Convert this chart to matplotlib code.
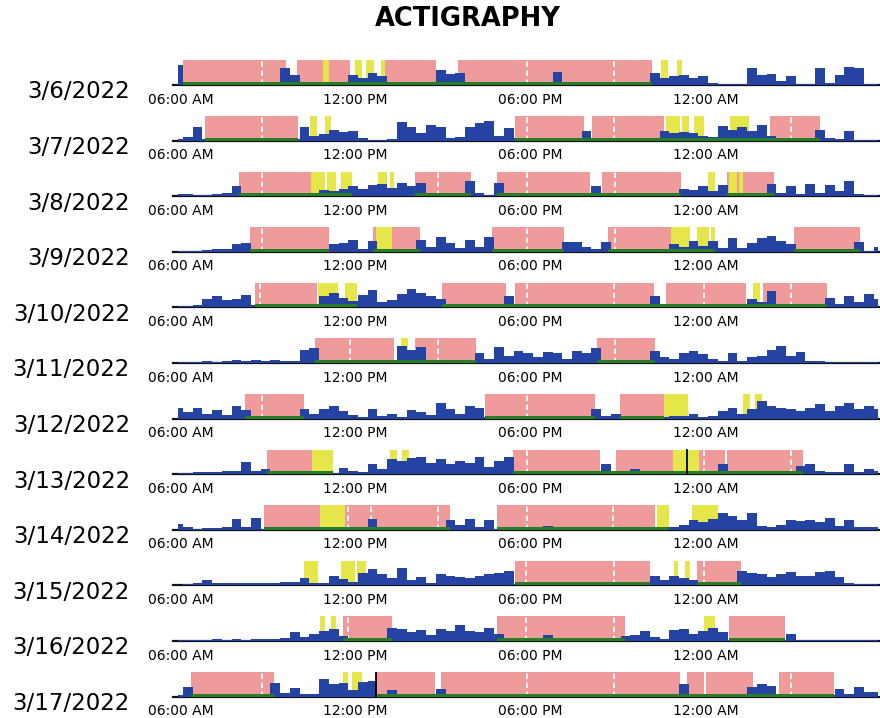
import matplotlib
matplotlib.use("Agg")
import matplotlib.pyplot as plt
import numpy as np

plt.rcParams["font.family"] = ["DejaVu Sans"]

DATES = ["3/6/2022", "3/7/2022", "3/8/2022", "3/9/2022", "3/10/2022", "3/11/2022",
         "3/12/2022", "3/13/2022", "3/14/2022", "3/15/2022", "3/16/2022", "3/17/2022"]
TICK_HOURS = [6, 12, 18, 24]
TICK_LABELS = ["06:00 AM", "12:00 PM", "06:00 PM", "12:00 AM"]

# activity counts in 20-minute epochs starting 05:45, as % of full scale
BIN_START = 5.75
BIN_HOURS = 1 / 3
ACTIVITY = [
    # 3/6
    [80, 5, 5, 5, 5, 5, 5, 5, 5, 5, 5, 70, 40, 5, 5, 5, 8, 5, 40, 30, 50, 35, 5, 5, 5,
     5, 5, 60, 45, 50, 5, 5, 5, 5, 5, 5, 5, 5, 5, 55, 5, 5, 5, 5, 5, 5, 5, 5, 5, 50,
     30, 35, 40, 30, 35, 8, 5, 5, 5, 70, 40, 45, 15, 35, 5, 5, 70, 10, 40, 75, 70, 5, 5],
    # 3/7
    [5, 15, 55, 5, 5, 5, 5, 5, 5, 5, 5, 5, 5, 55, 20, 25, 45, 35, 40, 10, 3, 3, 5, 75, 55,
     30, 65, 55, 10, 15, 55, 70, 80, 20, 50, 10, 5, 5, 5, 5, 5, 5, 40, 5, 5, 5, 5, 5, 5, 5,
     40, 30, 35, 30, 20, 15, 60, 45, 55, 40, 65, 20, 5, 5, 5, 5, 45, 10, 5, 40, 3, 3, 3],
    # 3/8
    [8, 8, 5, 3, 8, 15, 40, 5, 5, 5, 5, 5, 5, 5, 15, 25, 20, 30, 40, 30, 45, 50, 35, 55, 40,
     55, 5, 5, 5, 5, 60, 15, 5, 55, 5, 5, 5, 5, 5, 5, 5, 5, 5, 40, 5, 5, 5, 5, 5, 5,
     5, 5, 30, 25, 40, 20, 45, 8, 8, 8, 8, 50, 15, 40, 10, 50, 15, 45, 20, 60, 10, 5, 3],
    # 3/9
    [3, 5, 5, 8, 10, 12, 30, 35, 5, 5, 5, 5, 5, 5, 5, 5, 30, 35, 50, 10, 45, 5, 5, 5, 5,
     50, 20, 60, 35, 15, 50, 20, 60, 5, 5, 5, 5, 5, 5, 5, 40, 40, 20, 10, 40, 5, 5, 5, 5, 5,
     5, 30, 20, 45, 25, 45, 15, 55, 15, 35, 55, 65, 45, 30, 5, 5, 5, 5, 5, 5, 40, 5, 20],
    # 3/10
    [5, 5, 8, 35, 45, 30, 35, 50, 10, 5, 5, 5, 5, 5, 5, 45, 60, 40, 25, 50, 70, 20, 30, 55, 75,
     60, 45, 35, 5, 5, 5, 5, 5, 5, 45, 5, 5, 5, 5, 5, 5, 5, 5, 5, 5, 5, 5, 5, 5, 45,
     5, 5, 5, 5, 5, 5, 5, 5, 15, 35, 20, 65, 5, 5, 5, 5, 5, 40, 15, 45, 20, 55, 35],
    # 3/11
    [3, 5, 5, 8, 5, 10, 12, 8, 12, 10, 12, 8, 10, 55, 60, 5, 5, 5, 5, 5, 5, 5, 5, 70, 55,
     65, 5, 5, 5, 5, 10, 40, 15, 65, 30, 50, 40, 25, 45, 40, 15, 50, 40, 60, 5, 5, 5, 5, 5, 50,
     25, 15, 40, 50, 35, 15, 10, 40, 10, 25, 30, 55, 70, 30, 45, 10, 8, 6, 6, 6, 6, 6, 6],
    # 3/12
    [45, 25, 45, 20, 35, 15, 50, 35, 5, 5, 5, 5, 5, 40, 20, 40, 50, 30, 15, 8, 40, 10, 20, 8, 35,
     25, 15, 65, 40, 20, 50, 45, 5, 5, 5, 5, 5, 5, 5, 5, 5, 5, 5, 40, 10, 20, 5, 5, 5, 5,
     5, 10, 10, 20, 8, 10, 30, 45, 20, 40, 70, 50, 45, 40, 30, 45, 60, 30, 50, 65, 40, 50, 40],
    # 3/13
    [5, 5, 8, 10, 8, 12, 15, 50, 15, 20, 5, 5, 5, 5, 5, 5, 5, 25, 15, 10, 40, 20, 60, 55, 65,
     70, 45, 60, 40, 55, 45, 70, 30, 55, 70, 5, 5, 5, 5, 5, 5, 5, 5, 10, 40, 15, 5, 20, 5, 5,
     5, 5, 5, 5, 5, 5, 40, 5, 5, 5, 5, 5, 5, 5, 35, 40, 15, 10, 10, 40, 10, 20, 15],
    # 3/14
    [25, 10, 5, 8, 8, 10, 45, 10, 50, 5, 5, 5, 5, 5, 5, 5, 5, 5, 5, 5, 45, 5, 5, 5, 5,
     5, 5, 5, 40, 20, 45, 10, 40, 5, 5, 5, 5, 5, 15, 5, 5, 5, 5, 5, 5, 5, 5, 5, 5, 5,
     5, 10, 20, 40, 30, 45, 70, 55, 40, 70, 15, 10, 20, 40, 35, 40, 30, 50, 15, 40, 10, 10, 10],
    # 3/15
    [3, 5, 8, 20, 8, 10, 8, 10, 8, 10, 8, 12, 15, 30, 10, 10, 40, 25, 15, 50, 65, 45, 30, 70, 20,
     35, 10, 45, 40, 35, 30, 40, 45, 50, 60, 5, 5, 5, 5, 5, 5, 5, 5, 5, 5, 5, 5, 5, 5, 40,
     20, 40, 30, 20, 5, 5, 5, 5, 60, 50, 45, 35, 45, 55, 40, 40, 55, 60, 35, 10, 6, 6, 6],
    # 3/16
    [3, 3, 5, 5, 8, 5, 8, 5, 8, 10, 8, 12, 35, 15, 30, 40, 50, 20, 5, 5, 5, 5, 55, 50, 35,
     45, 25, 50, 40, 65, 40, 35, 55, 30, 5, 5, 5, 5, 25, 5, 5, 5, 5, 5, 5, 5, 20, 25, 40, 15,
     10, 45, 50, 30, 40, 55, 35, 5, 5, 5, 5, 5, 5, 30, 6, 6, 6, 6, 6, 6, 6, 6, 6],
    # 3/17
    [5, 40, 5, 5, 5, 5, 5, 5, 5, 5, 55, 15, 35, 10, 12, 70, 50, 55, 25, 60, 65, 5, 25, 5, 5,
     5, 5, 30, 5, 5, 5, 5, 5, 5, 5, 5, 5, 5, 5, 5, 5, 5, 5, 5, 5, 5, 5, 5, 5, 5,
     5, 5, 50, 5, 5, 5, 5, 5, 5, 40, 50, 45, 5, 5, 5, 5, 5, 5, 30, 10, 40, 20, 20],
]

# scored rest intervals (clock hours, >24 = next day)
REST = [
    [(6.10, 9.62), (9.98, 11.81), (13.02, 14.77), (15.52, 22.15)],
    [(6.84, 10.03), (17.47, 19.81), (20.10, 22.56), (26.20, 27.90)],
    [(7.99, 10.46), (14.05, 15.96), (16.84, 20.03), (20.43, 23.14), (24.73, 26.33)],
    [(8.38, 11.10), (12.61, 14.20), (16.68, 19.15), (20.66, 22.82), (27.04, 29.28)],
    [(8.57, 10.68), (14.96, 17.14), (17.47, 22.24), (22.64, 25.39), (25.95, 28.14)],
    [(10.62, 13.33), (14.05, 16.12), (20.27, 22.26)],
    [(8.22, 10.22), (16.44, 20.19), (21.06, 22.58)],
    [(8.98, 10.51), (17.39, 20.38), (20.94, 24.66), (24.74, 27.33)],
    [(8.86, 15.24), (16.84, 22.26)],
    [(17.47, 22.10), (23.70, 25.21)],
    [(11.57, 13.25), (16.84, 21.22), (24.81, 26.73)],
    [(6.36, 9.22), (12.70, 14.72), (14.91, 23.13), (23.37, 23.93), (24.02, 25.63), (26.52, 28.38)],
]

# off-wrist / excluded intervals
EXCLUDED = [
    [(10.87, 11.08), (11.97, 12.21), (12.34, 12.62), (12.86, 13.02), (22.48, 22.72), (23.01, 23.20)],
    [(10.43, 10.68), (10.95, 11.16), (22.64, 23.12), (23.20, 23.44), (23.60, 23.93), (24.82, 25.47)],
    [(10.46, 10.94), (11.02, 11.34), (11.50, 11.89), (12.77, 13.09), (13.17, 13.33), (24.09, 24.33),
     (24.81, 25.06), (25.13, 25.29)],
    [(12.69, 13.25), (22.82, 23.46), (23.70, 24.10), (24.18, 24.33)],
    [(10.72, 11.40), (11.65, 12.05), (25.63, 25.87)],
    [(13.57, 13.81)],
    [(22.58, 23.38), (25.29, 25.53), (25.69, 25.93)],
    [(10.51, 11.24), (13.18, 13.42), (13.59, 13.83), (22.88, 23.77)],
    [(10.78, 11.65), (22.34, 22.74), (23.54, 24.41)],
    [(10.22, 10.70), (11.49, 11.97), (12.05, 12.37), (22.90, 23.04), (23.30, 23.46)],
    [(10.78, 10.94), (11.17, 11.33), (23.93, 24.33)],
    [(11.57, 11.73), (11.89, 12.21)],
]

# white dashed day markers inside rest intervals
DASHES = [
    [8.78, 17.87, 20.86],
    [8.78, 17.87, 20.86, 26.92],
    [8.78, 14.84, 17.87, 20.90],
    [8.78, 17.87, 20.90],
    [8.74, 17.87, 20.86, 23.93, 26.92],
    [11.81, 14.84, 20.90],
    [8.78, 17.87],
    [17.87, 23.93, 26.92],
    [11.73, 12.53, 14.84, 17.87, 20.82],
    [17.84, 20.86, 23.93],
    [11.73, 17.84, 20.86],
    [8.78, 17.87, 20.86, 23.97, 26.92],
]

# light-off bands along the baseline
LIGHTS_OFF = [
    [(6.10, 22.15)],
    [(6.84, 10.03), (17.47, 27.90)],
    [(7.99, 11.89), (14.05, 15.96), (16.84, 23.14), (24.73, 26.33)],
    [(8.38, 11.10), (12.61, 14.20), (16.68, 19.15), (20.66, 24.33), (27.04, 29.28)],
    [(8.57, 12.05), (14.96, 28.14)],
    [(10.62, 16.12), (20.27, 22.26)],
    [(8.22, 10.22), (16.44, 20.19), (21.06, 22.58)],
    [(8.98, 11.24), (17.39, 27.33)],
    [(8.86, 15.24), (16.84, 22.74)],
    [(17.47, 22.10), (23.70, 25.21)],
    [(11.57, 13.25), (16.84, 21.22), (24.81, 26.73)],
    [(6.36, 9.22), (12.70, 28.38)],
]

# event-marker button presses
EVENTS = [[], [], [], [], [], [], [], [23.36], [], [], [], [12.70]]

COLORS = {
    "rest": "#ef9b9b",
    "excluded": "#e4e64a",
    "activity": "#2443a3",
    "light": "#267f26",
    "axis": "#111111",
}

W, H = 880, 718
X0, X1 = 5.75, 29.97
AX_LEFT = 173.2
ROW0 = 85
ROW_STEP = 55.6
ROW_H = 25


def draw_row(ax, i):
    top = 1.0
    for a, b in REST[i]:
        ax.fill_between([a, b], 0, top, color=COLORS["rest"], lw=0, zorder=1)
    for a, b in EXCLUDED[i]:
        ax.fill_between([a, b], 0, top, color=COLORS["excluded"], lw=0, zorder=1.5)
    for d in DASHES[i]:
        ax.plot([d, d], [0, top], color="white", lw=1.3, ls=(0, (3, 2)), zorder=2)

    vals = np.array(ACTIVITY[i]) / 100.0
    t = BIN_START + (np.arange(len(vals)) + 0.5) * BIN_HOURS
    ax.fill_between(t, 0, vals, step="mid", color=COLORS["activity"], lw=0, zorder=3)

    for a, b in LIGHTS_OFF[i]:
        ax.fill_between([a, b], 0, 0.12, color=COLORS["light"], lw=0, zorder=4)
    for e in EVENTS[i]:
        ax.plot([e, e], [0, top], color="black", lw=1.3, zorder=5)

    ax.set_xlim(X0, X1)
    ax.set_ylim(0, 1.02)
    ax.set_yticks([])
    ax.set_xticks(TICK_HOURS)
    ax.set_xticklabels(TICK_LABELS, fontsize=10)
    ax.tick_params(axis="x", length=0, pad=5.5)
    for side in ("top", "left", "right"):
        ax.spines[side].set_visible(False)
    ax.spines["bottom"].set_color(COLORS["axis"])
    ax.spines["bottom"].set_linewidth(1.6)
    ax.set_facecolor("none")


def main():
    fig = plt.figure(figsize=(W / 100, H / 100), dpi=100)
    fig.text(468 / W, 1 - 19 / H, "ACTIGRAPHY", ha="center", va="center",
             fontsize=18.5, fontweight="bold")
    for i, date in enumerate(DATES):
        base = ROW0 + ROW_STEP * i
        ax = fig.add_axes([AX_LEFT / W, 1 - base / H, (W - AX_LEFT) / W, ROW_H / H])
        draw_row(ax, i)
        fig.text(130 / W, 1 - (base + 7) / H, date, ha="right", va="center", fontsize=16.5)
    fig.savefig("out.png", dpi=100)
    plt.close(fig)


if __name__ == "__main__":
    main()
